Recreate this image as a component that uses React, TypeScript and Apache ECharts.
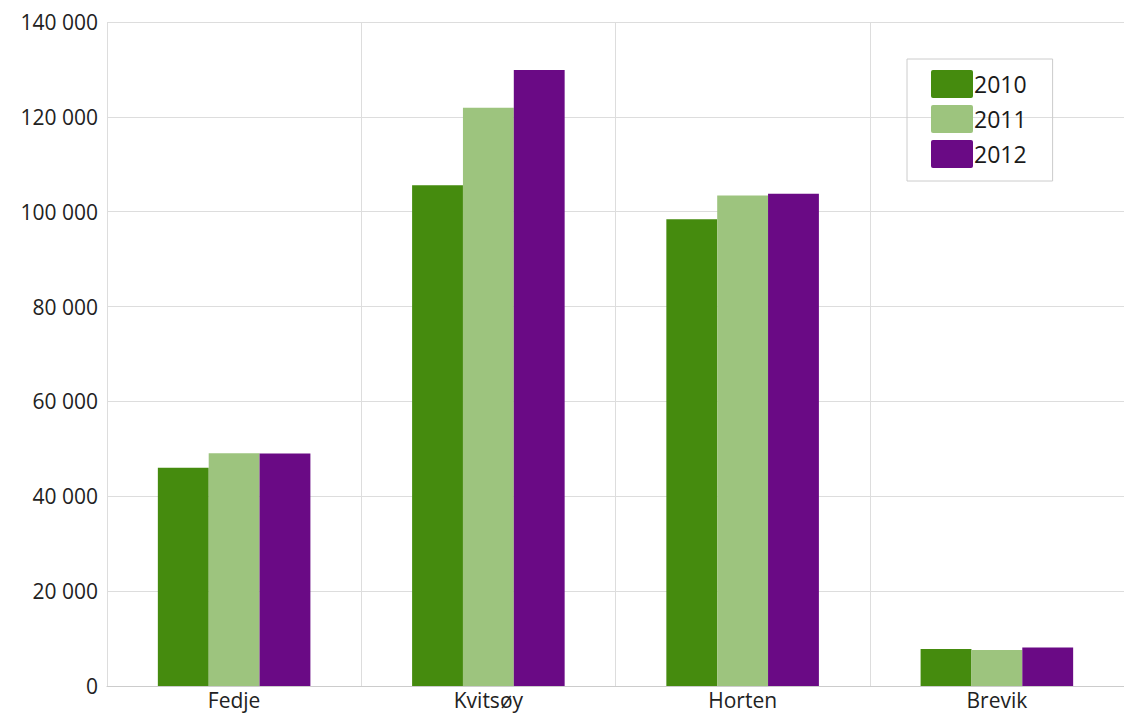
import React, { useEffect, useRef } from "react";
import * as echarts from "echarts";

const categories = ["Fedje", "Kvitsøy", "Horten", "Brevik"];
const seriesNames = ["2010", "2011", "2012"];
const values2010 = [46000, 105600, 98400, 7800];
const values2011 = [49100, 121900, 103400, 7600];
const values2012 = [49000, 129900, 103800, 8100];
const colors = ["#458B0E", "#9DC47E", "#6A0A85"];

const fmt = (v: number) => {
  const s = String(Math.round(v));
  return s.replace(/\B(?=(\d{3})+(?!\d))/g, " ");
};

export default function App() {
  const ref = useRef<HTMLDivElement>(null);
  useEffect(() => {
    if (!ref.current) return;
    const chart = echarts.init(ref.current, undefined, { renderer: "svg" });
    const font = "'Open Sans', 'Noto Sans', sans-serif";
    const data = [values2010, values2011, values2012];
    chart.setOption({
      animation: false,
      backgroundColor: "#ffffff",
      textStyle: { fontFamily: font },
      grid: { left: 107, top: 22, bottom: 30, width: 1020 },
      legend: {
        orient: "vertical",
        left: 907,
        top: 59,
        itemWidth: 42,
        itemHeight: 28,
        itemGap: 7,
        borderColor: "#cccccc",
        borderWidth: 1,
        padding: [11, 26, 13, 24],
        icon: "path://M2,0 L40,0 Q42,0 42,2 L42,26 Q42,28 40,28 L2,28 Q0,28 0,26 L0,2 Q0,0 2,0 Z",
        textStyle: { fontSize: 23, color: "#1a1a1a", fontFamily: font, padding: [0, 0, 0, -4] },
        data: seriesNames,
      },
      xAxis: {
        type: "category",
        data: categories,
        axisLine: { lineStyle: { color: "#cccccc" } },
        axisTick: { show: false },
        splitLine: { show: true, lineStyle: { color: "#dddddd" } },
        axisLabel: { fontSize: 21, color: "#222", margin: 3, fontFamily: font },
      },
      yAxis: {
        type: "value",
        min: 0,
        max: 140000,
        interval: 20000,
        axisLine: { show: false },
        axisTick: { show: false },
        splitLine: { lineStyle: { color: "#dddddd" } },
        axisLabel: {
          fontSize: 21,
          color: "#222",
          margin: 9,
          fontFamily: font,
          formatter: (v: number) => fmt(v),
        },
      },
      series: seriesNames.map((name, i) => ({
        name,
        type: "bar",
        data: data[i],
        barGap: "0%",
        barCategoryGap: "40%",
        itemStyle: { color: colors[i] },
      })),
    });
    return () => chart.dispose();
  }, []);
  return (
    <div
      ref={ref}
      style={{ position: "fixed", left: 0, top: 0, width: 1124, height: 716 }}
    />
  );
}
